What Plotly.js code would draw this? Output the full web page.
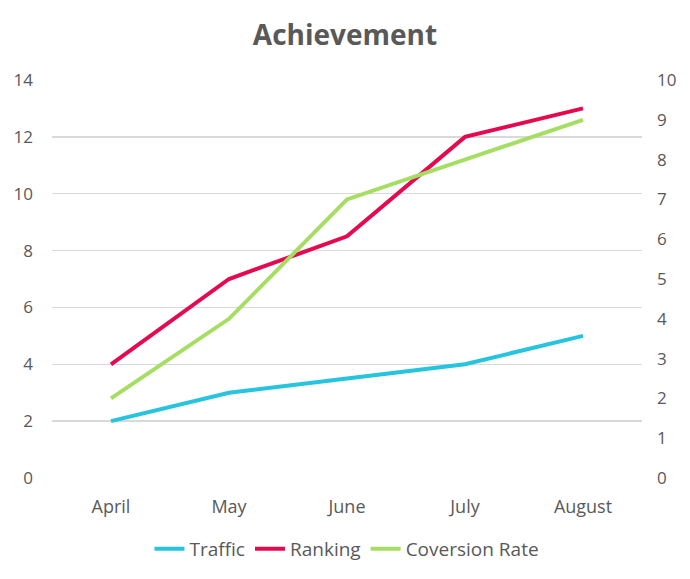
<!DOCTYPE html>
<html>
<head>
<meta charset="utf-8">
<script src="https://cdn.plot.ly/plotly-3.0.1.min.js"></script>
<style>
  html, body { margin: 0; padding: 0; background: #fff; }
  #chart { width: 690px; height: 579px; }
</style>
</head>
<body>
<div id="chart"></div>
<script>
const months = ["April", "May", "June", "July", "August"]
const traffic = [2, 3, 3.5, 4, 5]
const ranking = [4, 7, 8.5, 12, 13]
const conversionRate = [2, 4, 7, 8, 9]

const grey = "#595959"
const font = "Open Sans, Segoe UI, sans-serif"

const data = [
    {
        type: "scatter",
        mode: "lines",
        name: "Traffic",
        x: months,
        y: traffic,
        line: { color: "#26C4DE", width: 4 }
    },
    {
        type: "scatter",
        mode: "lines",
        name: "Ranking",
        x: months,
        y: ranking,
        line: { color: "#E5094F", width: 4 }
    },
    {
        type: "scatter",
        mode: "lines",
        name: "Coversion Rate",
        x: months,
        y: conversionRate,
        yaxis: "y2",
        line: { color: "#A5DE62", width: 4 }
    }
]

const layout = {
    width: 690,
    height: 579,
    margin: { l: 52, r: 48, t: 80, b: 100 },
    paper_bgcolor: "#fff",
    plot_bgcolor: "#fff",
    font: { family: font, color: grey, size: 16 },
    title: {
        text: "<b>Achievement</b>",
        font: { family: font, size: 28, color: grey },
        x: 0.5,
        xanchor: "center",
        y: 0.94,
        yanchor: "middle"
    },
    showlegend: true,
    legend: {
        orientation: "h",
        x: 0.5,
        xanchor: "center",
        y: -0.175,
        yanchor: "middle",
        font: { size: 19, color: grey },
        itemwidth: 30,
        traceorder: "normal"
    },
    xaxis: {
        range: [-0.5, 4.5],
        showgrid: false,
        zeroline: false,
        showline: false,
        ticks: "outside",
        ticklen: 12,
        tickcolor: "rgba(0,0,0,0)",
        tickfont: { size: 18, color: grey }
    },
    yaxis: {
        range: [0, 14],
        dtick: 2,
        showgrid: true,
        gridcolor: "#D9D9D9",
        gridwidth: 1.5,
        zeroline: false,
        showline: false,
        tickfont: { size: 17, color: grey },
        ticklabelstandoff: 18
    },
    yaxis2: {
        range: [0, 10],
        dtick: 1,
        overlaying: "y",
        side: "right",
        showgrid: false,
        zeroline: false,
        showline: false,
        tickfont: { size: 17, color: grey },
        ticklabelstandoff: 14
    }
}

Plotly.newPlot("chart", data, layout, { displayModeBar: false, staticPlot: true })
</script>
</body>
</html>
